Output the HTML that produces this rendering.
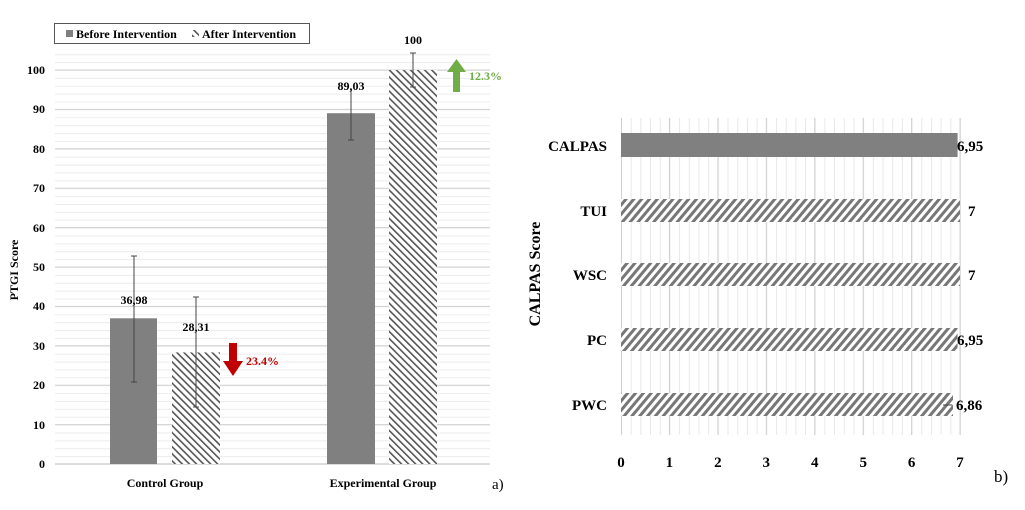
<!DOCTYPE html>
<html><head><style>body{margin:0;background:#fff}svg{display:block;font-family:"Liberation Serif",serif;font-weight:bold}</style></head><body>
<svg width="1025" height="510" viewBox="0 0 1025 510">
<defs>
<pattern id="hl" width="5" height="5" patternUnits="userSpaceOnUse" patternTransform="rotate(-45)"><rect width="5" height="5" fill="#fff"/><rect width="1.6" height="5" fill="#555"/></pattern>
<pattern id="hr" width="6" height="6" patternUnits="userSpaceOnUse" patternTransform="rotate(40)"><rect width="6" height="6" fill="#fff"/><rect width="3" height="6" fill="#777"/></pattern>
<pattern id="lmin" x="0" y="62.12" width="10" height="7.88" patternUnits="userSpaceOnUse"><line x1="0" x2="10" y1="0.5" y2="0.5" stroke="#ececec"/></pattern>
<pattern id="rmin" x="621" y="0" width="9.686" height="10" patternUnits="userSpaceOnUse"><line x1="0.5" x2="0.5" y1="0" y2="10" stroke="#e8e8e8"/></pattern>
</defs>
<rect x="55" y="54" width="435" height="410" fill="url(#lmin)"/>
<g stroke="#d0d0d0">
<line x1="55" x2="490" y1="70" y2="70"/><line x1="55" x2="490" y1="109.4" y2="109.4"/><line x1="55" x2="490" y1="148.8" y2="148.8"/><line x1="55" x2="490" y1="188.2" y2="188.2"/><line x1="55" x2="490" y1="227.6" y2="227.6"/><line x1="55" x2="490" y1="267" y2="267"/><line x1="55" x2="490" y1="306.4" y2="306.4"/><line x1="55" x2="490" y1="345.8" y2="345.8"/><line x1="55" x2="490" y1="385.2" y2="385.2"/><line x1="55" x2="490" y1="424.6" y2="424.6"/>
</g>
<g font-size="12" text-anchor="end">
<text x="45" y="74">100</text><text x="45" y="113">90</text><text x="45" y="153">80</text><text x="45" y="192">70</text><text x="45" y="232">60</text><text x="45" y="271">50</text><text x="45" y="310">40</text><text x="45" y="350">30</text><text x="45" y="389">20</text><text x="45" y="429">10</text><text x="45" y="468">0</text>
</g>
<line x1="55" x2="490" y1="464" y2="464" stroke="#bbb"/>
<rect x="110" y="318.3" width="47" height="145.7" fill="#808080"/>
<rect x="172" y="352.4" width="48" height="111.6" fill="url(#hl)"/>
<rect x="327" y="113.2" width="48" height="350.8" fill="#808080"/>
<rect x="389" y="70" width="48" height="394" fill="url(#hl)"/>
<g stroke="#444" stroke-width="1">
<line x1="134" y1="256" x2="134" y2="382"/><line x1="131" x2="137" y1="256" y2="256"/><line x1="131" x2="137" y1="382" y2="382"/>
<line x1="196" y1="297" x2="196" y2="407"/><line x1="193" x2="199" y1="297" y2="297"/><line x1="193" x2="199" y1="407" y2="407"/>
<line x1="351" y1="88" x2="351" y2="140"/><line x1="348" x2="354" y1="140" y2="140"/>
<line x1="413" y1="53" x2="413" y2="87"/><line x1="410" x2="416" y1="53" y2="53"/><line x1="410" x2="416" y1="87" y2="87"/>
</g>
<g font-size="12" text-anchor="middle">
<text x="134" y="304">36,98</text><text x="196" y="331">28,31</text>
<text x="351" y="90">89,03</text><text x="413" y="44">100</text>
<text x="165" y="487">Control Group</text><text x="383" y="487">Experimental Group</text>
</g>
<text x="18" y="270" font-size="12" text-anchor="middle" transform="rotate(-90 18 270)">PTGI Score</text>
<text x="492" y="489" font-size="15" font-weight="normal">a)</text>
<polygon points="229,343 237,343 237,361 243,361 233,376 223,361 229,361" fill="#c00000"/>
<text x="246" y="365" font-size="12" fill="#c00000">23.4%</text>
<polygon points="453,92 460,92 460,72 466,72 456.5,59 447,72 453,72" fill="#70ad47"/>
<text x="469" y="80" font-size="12" fill="#70ad47">12.3%</text>
<rect x="54.5" y="23.5" width="255" height="20" fill="#fff" stroke="#555"/>
<rect x="66" y="30" width="7" height="7" fill="#808080"/>
<text x="76" y="38" font-size="12">Before Intervention</text>
<rect x="192" y="30" width="7" height="7" fill="url(#hl)"/>
<text x="202" y="38" font-size="12">After Intervention</text>
<!-- right chart -->
<rect x="621" y="118" width="340" height="317" fill="url(#rmin)"/>
<g stroke="#d0d0d0">
<line x1="621.5" x2="621.5" y1="118" y2="435"/><line x1="669.4" x2="669.4" y1="118" y2="435"/><line x1="717.9" x2="717.9" y1="118" y2="435"/><line x1="766.3" x2="766.3" y1="118" y2="435"/><line x1="814.7" x2="814.7" y1="118" y2="435"/><line x1="863.2" x2="863.2" y1="118" y2="435"/><line x1="911.6" x2="911.6" y1="118" y2="435"/><line x1="960" x2="960" y1="118" y2="435"/>
</g>
<g font-size="15" text-anchor="middle">
<text x="621" y="467">0</text><text x="669.4" y="467">1</text><text x="717.9" y="467">2</text><text x="766.3" y="467">3</text><text x="814.7" y="467">4</text><text x="863.2" y="467">5</text><text x="911.6" y="467">6</text><text x="960" y="467">7</text>
</g>
<rect x="621" y="133" width="336.6" height="24" fill="#808080"/>
<rect x="621" y="199" width="339" height="23" fill="url(#hr)"/>
<rect x="621" y="263" width="339" height="23" fill="url(#hr)"/>
<rect x="621" y="328" width="336.6" height="23" fill="url(#hr)"/>
<rect x="621" y="393" width="332" height="23" fill="url(#hr)"/>
<line x1="943" x2="952" y1="405" y2="405" stroke="#444"/>
<g font-size="15">
<text x="607" y="151" text-anchor="end">CALPAS</text>
<text x="607" y="216" text-anchor="end">TUI</text>
<text x="607" y="280" text-anchor="end">WSC</text>
<text x="607" y="345" text-anchor="end">PC</text>
<text x="607" y="410" text-anchor="end">PWC</text>
<text x="957" y="151">6,95</text>
<text x="968" y="216">7</text>
<text x="968" y="280">7</text>
<text x="957" y="345">6,95</text>
<text x="956" y="410">6,86</text>
</g>
<text x="540" y="274" font-size="16" text-anchor="middle" transform="rotate(-90 540 274)">CALPAS Score</text>
<text x="994" y="482" font-size="17" font-weight="normal">b)</text>
</svg>
</body></html>
